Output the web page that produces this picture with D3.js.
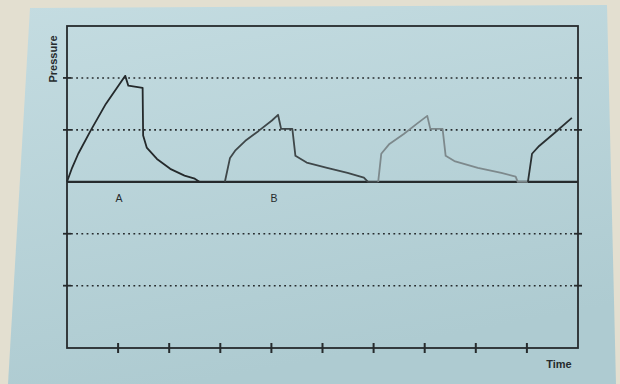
<!DOCTYPE html>
<html>
<head>
<meta charset="utf-8">
<script src="https://cdn.jsdelivr.net/npm/d3@7/dist/d3.min.js"></script>
<style>
  html, body { margin: 0; padding: 0; background: #e3dfd0; }
  svg { display: block; }
</style>
</head>
<body>
<svg id="chart" width="620" height="384"></svg>
<script>
// ---- data ----
// time in units of the 10 time ticks, pressure in units of the dotted grid
const time = [
  0, 0.10, 0.22, 0.46, 0.76, 1.14, 1.20, 1.48, 1.49, 1.56, 1.76, 2.02, 2.30, 2.50, 2.59, 3.09,
  3.09, 3.19, 3.29, 3.49, 3.75, 4.01, 4.13, 4.19, 4.41, 4.47, 4.69, 5.09, 5.49, 5.81, 5.89, 6.09,
  6.09, 6.15, 6.31, 6.59, 6.85, 7.05, 7.11, 7.35, 7.41, 7.58, 8.04, 8.50, 8.78, 8.82, 9.02,
  9.02, 9.10, 9.24, 9.54, 9.88
];
const pressure = [
  0, 0.27, 0.54, 0.98, 1.50, 2.04, 1.85, 1.81, 0.89, 0.66, 0.44, 0.25, 0.12, 0.06, 0, 0,
  0, 0.46, 0.60, 0.79, 0.98, 1.18, 1.29, 1.02, 1.02, 0.50, 0.37, 0.27, 0.17, 0.08, 0, 0,
  0, 0.54, 0.73, 0.92, 1.12, 1.27, 1.02, 1.02, 0.50, 0.40, 0.27, 0.17, 0.10, 0, 0,
  0, 0.54, 0.69, 0.94, 1.23
];
const cycle = [
  0,0,0,0,0,0,0,0,0,0,0,0,0,0,0,0,
  1,1,1,1,1,1,1,1,1,1,1,1,1,1,1,1,
  2,2,2,2,2,2,2,2,2,2,2,2,2,2,2,
  3,3,3,3,3
];
const cycleColors = ["#24292b", "#3f4749", "#7d898c", "#2a3032"];
const timeTicks = [1, 2, 3, 4, 5, 6, 7, 8, 9];
const pressureGrid = [2, 1, -1, -2];
const cycleLabels = ["A", "B"];
const cycleLabelTimes = [1.02, 4.05];
const xTitle = "Time";
const yTitle = "Pressure";

(function () {
  const svg = d3.select("#chart");
  const mL = 67, mR = 578, mT = 26, mB = 348;
  const ink = "#262b2d";

  const x = d3.scaleLinear().domain([0, 10]).range([mL, mR]);
  const y = d3.scaleLinear().domain([-3.2, 3]).range([mB, mT]);

  // card background
  const defs = svg.append("defs");
  const grad = defs.append("linearGradient").attr("id", "card")
    .attr("x1", 0).attr("y1", 0).attr("x2", 0.3).attr("y2", 1);
  grad.append("stop").attr("offset", 0).attr("stop-color", "#c4dce1");
  grad.append("stop").attr("offset", 1).attr("stop-color", "#aecbd1");
  svg.append("path")
    .attr("d", "M30,8 L607,5 L616,384 L8,384 Z")
    .attr("fill", "url(#card)");

  // dotted grid lines
  svg.append("g").selectAll("line").data(pressureGrid).join("line")
    .attr("x1", mL + 4).attr("x2", mR - 4)
    .attr("y1", d => y(d)).attr("y2", d => y(d))
    .attr("stroke", ink).attr("stroke-width", 1.6)
    .attr("stroke-dasharray", "1.8,3.4");

  // small ticks on left and right axes at grid lines
  [mL, mR].forEach(px => {
    svg.append("g").selectAll("line").data(pressureGrid).join("line")
      .attr("x1", px - 4).attr("x2", px + 4)
      .attr("y1", d => y(d)).attr("y2", d => y(d))
      .attr("stroke", ink).attr("stroke-width", 1.8);
  });

  // frame
  svg.append("rect")
    .attr("x", mL).attr("y", mT)
    .attr("width", mR - mL).attr("height", mB - mT)
    .attr("fill", "none").attr("stroke", ink).attr("stroke-width", 1.8);

  // zero baseline
  svg.append("line")
    .attr("x1", mL).attr("x2", mR)
    .attr("y1", y(0)).attr("y2", y(0))
    .attr("stroke", ink).attr("stroke-width", 2.2);

  // bottom time ticks
  svg.append("g").selectAll("line").data(timeTicks).join("line")
    .attr("x1", d => x(d)).attr("x2", d => x(d))
    .attr("y1", mB - 5).attr("y2", mB + 5)
    .attr("stroke", ink).attr("stroke-width", 2);

  // pressure trace, grouped by cycle
  const pts = time.map((t, i) => ({ t, p: pressure[i], c: cycle[i] }));
  const groups = d3.groups(pts, d => d.c);
  const line = d3.line().x(d => x(d.t)).y(d => y(d.p));
  svg.append("g").selectAll("path").data(groups).join("path")
    .attr("d", d => line(d[1]))
    .attr("fill", "none")
    .attr("stroke", d => cycleColors[d[0]])
    .attr("stroke-width", 1.8)
    .attr("stroke-linejoin", "round");

  // cycle labels
  svg.append("g").selectAll("text").data(cycleLabels).join("text")
    .attr("x", (d, i) => x(cycleLabelTimes[i]))
    .attr("y", y(0) + 20)
    .attr("text-anchor", "middle")
    .attr("font-family", "Liberation Sans, Arial, sans-serif")
    .attr("font-size", 10.5)
    .attr("fill", ink)
    .text(d => d);

  // axis titles
  svg.append("text")
    .attr("transform", `translate(${mL - 10},${mT + 33}) rotate(-90)`)
    .attr("text-anchor", "middle")
    .attr("font-family", "Liberation Sans, Arial, sans-serif")
    .attr("font-size", 11).attr("font-weight", "bold")
    .attr("fill", ink)
    .text(yTitle);

  svg.append("text")
    .attr("x", mR - 19).attr("y", mB + 20)
    .attr("text-anchor", "middle")
    .attr("font-family", "Liberation Sans, Arial, sans-serif")
    .attr("font-size", 11).attr("font-weight", "bold")
    .attr("fill", ink)
    .text(xTitle);
})();
</script>
</body>
</html>
